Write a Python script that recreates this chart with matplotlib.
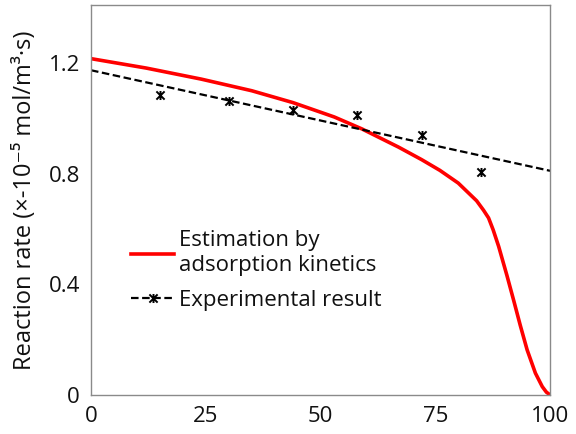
import numpy as np
import matplotlib
matplotlib.use("Agg")
import matplotlib.pyplot as plt
from matplotlib.path import Path
from matplotlib.lines import Line2D

plt.rcParams['font.family'] = ['Open Sans', 'DejaVu Sans']

# Estimation by adsorption kinetics (red curve)
model_x = [0, 12, 24, 35, 44, 53, 59, 67, 72, 76, 80, 84, 85.5, 86.6, 87.6, 88.8,
           90.6, 92.1, 93.5, 95, 96.8, 98.3, 99.2, 100]
model_y = [1.216, 1.182, 1.142, 1.100, 1.057, 1.005, 0.962, 0.896, 0.851, 0.812,
           0.766, 0.702, 0.668, 0.640, 0.597, 0.537, 0.432, 0.340, 0.252, 0.163,
           0.079, 0.030, 0.010, 0.0]

# Experimental result
exp_x = [15, 30, 44, 58, 72, 85]
exp_y = [1.086, 1.064, 1.032, 1.011, 0.941, 0.805]

x_ticks = [0, 25, 50, 75, 100]
y_ticks = [0, 0.4, 0.8, 1.2]
y_ticklabels = ['0', '0.4', '0.8', '1.2']

# asterisk-like marker: x plus vertical stroke
verts = [(-1, -1), (1, 1), (-1, 1), (1, -1), (0, -1.1), (0, 1.1)]
codes = [Path.MOVETO, Path.LINETO, Path.MOVETO, Path.LINETO,
         Path.MOVETO, Path.LINETO]
star = Path(verts, codes)

fig = plt.figure(figsize=(5.76, 4.34), dpi=100)
ax = fig.add_axes([0.158, 0.090, 0.797, 0.8985])

ax.plot(model_x, model_y, color='#ff0000', lw=2.6, solid_capstyle='round',
        solid_joinstyle='round')

# linear trendline through experimental data
coef = np.polyfit(exp_x, exp_y, 1)
tx = np.array([0, 100])
dash = (0, (3.4, 1.6))
ax.plot(tx, np.polyval(coef, tx), color='black', lw=1.6, linestyle=dash)
ax.plot(exp_x, exp_y, linestyle='none', marker=star, markersize=6.5,
        markeredgecolor='black', markeredgewidth=1.4, color='black')

ax.set_xlim(0, 100)
ax.set_ylim(0, 1.41)
ax.set_xticks(x_ticks)
ax.set_yticks(y_ticks)
ax.set_yticklabels(y_ticklabels)
ax.tick_params(length=0, labelsize=16, pad=8, labelcolor='#111111')
for s in ax.spines.values():
    s.set_color('#8a8a8a')
    s.set_linewidth(1.0)

ax.set_ylabel('Reaction rate (×-10⁻⁵ mol/m³·s)', fontsize=17, color='#111111',
              labelpad=8)

h1 = Line2D([], [], color='#ff0000', lw=2.6)
h2 = Line2D([], [], color='black', lw=1.6, linestyle=dash, marker=star,
            markersize=6.5, markeredgewidth=1.4)
leg = ax.legend([h1, h2], ['Estimation by\nadsorption kinetics', 'Experimental result'],
                loc='upper left', bbox_to_anchor=(0.088, 0.422), frameon=False,
                fontsize=16, handlelength=1.9, handletextpad=0.25, labelspacing=0.6,
                borderpad=0, borderaxespad=0)
for t in leg.get_texts():
    t.set_color('#111111')
    t.set_linespacing(1.25)

fig.savefig('out.png', dpi=100)
